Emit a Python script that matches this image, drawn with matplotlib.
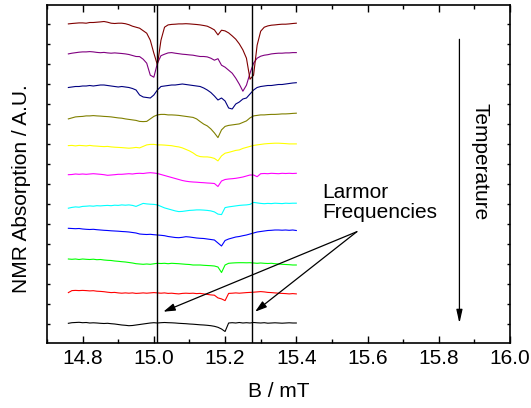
import matplotlib
matplotlib.use('Agg')
import matplotlib.pyplot as plt
from matplotlib.ticker import MultipleLocator, NullFormatter

plt.rcParams['font.family'] = ['Liberation Sans', 'DejaVu Sans']

# Magnetic field B (mT) at which each spectrum was sampled
field_mT = [14.76, 14.77, 14.78, 14.79, 14.80, 14.81, 14.82, 14.83, 14.84, 14.85,
            14.86, 14.87, 14.88, 14.89, 14.90, 14.91, 14.92, 14.93, 14.94, 14.95,
            14.96, 14.97, 14.98, 14.99, 15.00, 15.01, 15.02, 15.03, 15.04, 15.05,
            15.06, 15.07, 15.08, 15.09, 15.10, 15.11, 15.12, 15.13, 15.14, 15.15,
            15.16, 15.17, 15.18, 15.19, 15.20, 15.21, 15.22, 15.23, 15.24, 15.25,
            15.26, 15.27, 15.28, 15.29, 15.30, 15.31, 15.32, 15.33, 15.34, 15.35,
            15.36, 15.37, 15.38, 15.39, 15.40]

# NMR absorption signals (A.U.), bottom spectrum (black) to top (dark red)
sig_black = [-0.3, 0.3, 0.5, 0.7, 0.3, 0.5, 0, 0.2, 0, -0.3,
             -0.5, -0.3, -0.7, -1, -1.5, -2, -2.3, -2.7, -2.5, -2,
             -1.5, -1, -0.5, 0, 0.3, 0, 0.3, 0.5, 0.3, 0.2,
             0, -0.3, -0.5, -0.7, -1, -1.2, -1.5, -1.8, -2, -2.3,
             -2.7, -3.3, -4.3, -6, -8.5, 0, 0.3, 0, 0.5, 0,
             0.3, 0, 0.5, 0.2, 0, 0.3, -0.2, 0, 0.2, 0,
             -0.2, 0, 0.2, 0, 0]
sig_red = [-2, 0, 0.2, 0, 0.2, 0, -0.3, -0.1, -0.6, -0.8,
           -1.1, -1.6, -2, -1.8, -2.3, -2.6, -2.3, -2.6, -2.3, -2.8,
           -2.6, -2.3, -2.6, -2.3, -2, -2.3, -2.6, -2.3, -2.8, -2.6,
           -3, -3.3, -2.8, -2.6, -2.8, -2.6, -3, -2.8, -3.3, -3.8,
           -4.3, -4.6, -7.3, -8.3, -10, -2.8, -2.6, -2.3, -2.6, -2.3,
           -2, -1.8, -1.6, -1.3, -1, -1.3, -1.8, -2, -2.3, -2.6,
           -2.8, -3, -3.3, -3, -3.3]
sig_green = [0, -0.3, 0, -0.5, 0, -0.3, -0.5, -0.2, -0.7, -0.5,
             -1, -1.3, -1.5, -2, -2.3, -2.7, -3, -3.5, -4, -4.7,
             -5, -5.3, -5, -5.3, -4.8, -4.3, -4.5, -4.3, -4.7, -4.3,
             -4.5, -4.7, -5, -5.3, -5.5, -6, -6, -6, -6.3, -6.5,
             -6.7, -7, -8, -13.5, -6, -4.3, -4, -3.8, -3.7, -3.7,
             -3.8, -3.7, -4, -4.3, -4, -4.3, -4.5, -4.3, -4.7, -5,
             -5.3, -5.5, -5.7, -6, -6]
sig_blue = [0.7, 0.5, 0.3, 0.5, 0, -0.3, -0.5, -0.3, -0.7, -1,
            -1.3, -1.5, -1.8, -2, -2.2, -2.5, -2.7, -3, -3.5, -4,
            -5, -5.3, -5.5, -5.3, -5.7, -6, -6.3, -6.7, -7.5, -8,
            -8.5, -8.7, -8.3, -7.7, -8, -8.5, -9, -9.3, -9.5, -10,
            -10.5, -11, -14, -17, -11.5, -10, -9, -8, -7.5, -6.7,
            -6, -5, -4, -3, -2.5, -2, -1.5, -1.3, -1, -1,
            -1.2, -1, -1.3, -1, -1.5]
sig_cyan = [-1.6, -0.8, -0.3, -0.6, 0.2, 0.4, 0.7, 0.4, 0.9, 0.7,
            1, 1.2, 0.9, 1.4, 1.2, 1.7, 1.4, 1.7, 1.2, 0.2,
            1.7, 3.2, 2.7, 2.4, 2.2, 1.7, 0.2, -1.3, -2.3, -3.3,
            -4.3, -5, -4.8, -4.3, -3.8, -3.6, -3.3, -3.3, -3.5, -3.8,
            -4.3, -5.3, -7.5, -8, -1, -0.3, 0.2, 0.7, 1.2, 1.5,
            1.7, 2.2, 4.2, 3.7, 3.2, 2.9, 3.2, 3, 3.4, 3.2,
            3, 3.4, 3.2, 3.4, 3.4]
sig_magenta = [-0.7, -0.5, 0, -0.3, 0, -0.3, 0, 0.3, 0, -0.3,
               -0.7, -1.3, -1, -0.7, -0.3, -0.3, 0, 0.3, 0, 0.5,
               0.7, 0.5, 1, 1.3, 1, 0.5, -0.5, -1.5, -2.5, -3.5,
               -4.5, -5.5, -6.5, -7.2, -7.7, -8, -8.2, -8.5, -8.7, -9,
               -9.2, -9.5, -12.5, -7, -5.5, -5, -4.7, -4.3, -3.7, -3,
               -2, -1, -1, -2.7, 0.3, 0.5, 0.3, 0.7, 0.5, 0.3,
               0.7, 0.5, 0.7, 0.5, 0.7]
sig_yellow = [0, 0.2, -0.3, 0.2, 0, -0.3, 0.2, -0.3, -0.5, -0.8,
              -1, -0.8, -1.3, -1.6, -1.8, -2, -2.3, -2.6, -2.3, -1.8,
              -2.3, -0.8, 0.7, 1.2, 1.2, 0.7, 0.7, 0.5, 0.2, -0.1,
              -0.8, -1.3, -2.3, -3.8, -5.3, -7.3, -9.8, -11, -11.3, -11.3,
              -11.8, -12.8, -15.3, -10.3, -7.6, -6.8, -5.8, -4.8, -4.3, -2.8,
              -1.8, -0.8, 0.2, 0.7, 1.2, 1.7, 2, 2.2, 2.4, 2.4,
              2.2, 2, 1.7, 1.7, 1.7]
sig_olive = [-1.3, -0.3, 0.7, 1, 1.2, 1.7, 1.7, 2, 1.7, 1.5,
             1.2, 1, 0.7, 0.2, -0.3, -0.6, -1.3, -1.8, -2.3, -2.8,
             -3.8, -4, -3.8, -1.3, 1.2, 2.7, 3.2, 3.2, 2.7, 2.7,
             2.5, 2.2, 1.7, 1.2, 0.7, 0.2, -1.3, -4, -6.5, -8.3,
             -11.3, -15.3, -20, -12.3, -8.8, -7.8, -7.3, -6.8, -6.3, -4.8,
             -3.3, -0.3, 1.7, 2.2, 2.7, 2.7, 3, 3.2, 3.2, 3.4,
             3.7, 3.7, 3.9, 4.2, 4.4]
sig_navy = [-0.5, 0, 0.5, 0.5, 1, 1, 1.5, 1, 1.5, 2,
            2, 1.5, 1, 0.5, 0, 0.5, 0, -0.5, -1.5, -3,
            -8, -10, -10.5, -11, -8, -3, 0.5, 1, 1.5, 2,
            2, 2.5, 3, 2.5, 2, 1.5, 1, 0.5, -1, -3,
            -5.5, -9, -13, -11, -14, -21, -22, -17, -15, -12,
            -11, -7, -3, -0.5, 0.5, 1, 1.5, 1.5, 2, 2.5,
            2.5, 3, 3.5, 4, 4.3]
sig_purple = [-0.7, 0, 0.5, 1, 1.3, 1.3, 1.6, 1.3, 0.8, 0.5,
              0.8, 0.3, 0, 0.3, 0, -0.3, -0.7, -1.3, -2.3, -3.3,
              -3.4, -6, -10, -22, -24, -10, -2.5, -1, 0.3, 0.6,
              0, -0.5, -1, -1.3, -1.7, -2, -2.7, -3.3, -3.3, -3.7,
              -5, -7, -5.5, -12, -14, -17, -20, -25, -31, -38,
              -32, -20, -10, -5, -3, -2, -1.5, -0.7, -0.3, 0,
              0, 0.3, 0.3, 0.6, 0.6]
sig_darkred = [-0.7, -0.3, 0, 0.3, 0.3, 0, 0.7, 0.7, 1, 1.3,
               1.7, 1, 0, -0.3, 0, 0, -0.5, -1.5, -3, -4,
               -5, -7.5, -10, -17, -30, -41.7, -17, -4, -1.7, -1.2,
               -1, -0.7, -0.7, -0.5, -0.7, -1, -1.3, -1.7, -2.3, -3,
               -4.7, -6.7, -11.7, -7, -7.7, -9.7, -12.7, -16, -20.7, -26.7,
               -35, -56, -52, -22, -8, -4, -2.7, -2, -1.7, -1.3,
               -1, -1, -0.7, -0.3, 0]

signals = [sig_black, sig_red, sig_green, sig_blue, sig_cyan, sig_magenta,
           sig_yellow, sig_olive, sig_navy, sig_purple, sig_darkred]
trace_colors = ['#000000', '#FF0000', '#00FF00', '#0000FF', '#00FFFF', '#FF00FF',
                '#FFFF00', '#808000', '#000080', '#800080', '#800000']
trace_offsets = [1.05, 2.67, 4.25, 5.75, 6.87, 8.5, 9.92, 11.32, 12.85, 14.54, 16.04]
signal_scale = 0.05

larmor_fields = [15.01, 15.275]

for s in signals:
    assert len(s) == len(field_mT), len(s)

fig = plt.figure(figsize=(5.31, 4.08), dpi=100)
ax = fig.add_axes([47 / 531, 1 - 343 / 408, (510 - 47) / 531, (343 - 5) / 408])

for sig, col, off in zip(signals, trace_colors, trace_offsets):
    ax.plot(field_mT, [off + signal_scale * v for v in sig], color=col, lw=0.8)

for xl in larmor_fields:
    ax.axvline(xl, color='black', lw=1.0)

ax.set_xlim(14.7, 16.0)
ax.set_ylim(0.05, 16.95)
ax.xaxis.set_minor_locator(MultipleLocator(0.1))
ax.set_xticks([14.8, 15.0, 15.2, 15.4, 15.6, 15.8, 16.0])
ax.set_xticklabels(['14.8', '15.0', '15.2', '15.4', '15.6', '15.8', '16.0'])
ax.set_yticks(list(range(1, 17)))
ax.yaxis.set_major_formatter(NullFormatter())

ax.tick_params(which='both', direction='in', top=True, right=True,
               labeltop=False, labelright=False, width=1.0, color='black')
ax.tick_params(axis='x', which='major', length=5, pad=4.0, labelsize=15)
ax.tick_params(axis='x', which='minor', length=3)
ax.tick_params(axis='y', which='major', length=2.5)
for sp in ax.spines.values():
    sp.set_linewidth(1.2)
    sp.set_color('black')

ax.set_xlabel('B / mT', fontsize=15)
ax.xaxis.set_label_coords(0.5, -0.115)
ax.set_ylabel('NMR Absorption / A.U.', fontsize=15)
ax.yaxis.set_label_coords(-0.034, 0.458)

# Larmor frequency annotation
ax.text(15.4716, 8.05, 'Larmor\nFrequencies', fontsize=15, ha='left', va='top',
        linespacing=1.1)
for tx in (15.0267, 15.2843):
    ax.annotate('', xy=(tx, 1.615), xytext=(15.57, 5.615),
                arrowprops=dict(arrowstyle='-|>,head_length=0.7,head_width=0.22',
                                color='black', lw=0.9, shrinkA=0, shrinkB=0))

# Temperature arrow
ax.annotate('', xy=(15.858, 1.035), xytext=(15.858, 15.235),
            arrowprops=dict(arrowstyle='-|>,head_length=0.8,head_width=0.18',
                            color='black', lw=0.9, shrinkA=0, shrinkB=0))
ax.text(15.916, 9.115, 'Temperature', fontsize=15, rotation=-90,
        ha='center', va='center')

fig.savefig('out.png', dpi=100)
